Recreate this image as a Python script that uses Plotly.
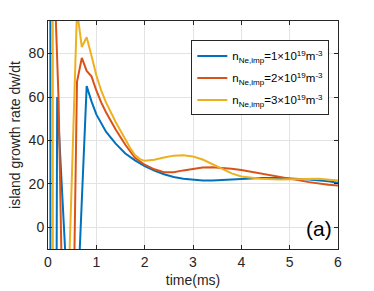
import plotly.graph_objects as go

# time (ms) and island growth rate dw/dt for each neon density
t_ne1 = [0.04, 0.06, 0.19, 0.40, 0.60, 0.80, 0.90, 1.00, 1.20, 1.40, 1.60, 1.80, 2.00, 2.20, 2.40,
         2.60, 2.80, 3.00, 3.20, 3.40, 3.60, 3.80, 4.00, 4.40, 4.80, 5.00, 5.40, 5.80, 6.00]
w_ne1 = [800, -800, 60, -30, -40, 65, 58, 52, 44, 38.5, 34, 30.8, 28.2, 26.1, 24.4,
         23.2, 22.4, 21.9, 21.6, 21.6, 21.8, 22.1, 22.4, 22.7, 22.7, 22.5, 22.0, 21.2, 20.5]

t_ne2 = [0.00, 0.22, 0.30, 0.50, 0.60, 0.70, 0.80, 0.90, 1.00, 1.10, 1.20, 1.40, 1.60, 1.80, 2.00, 2.20,
         2.40, 2.60, 2.80, 3.00, 3.20, 3.40, 3.60, 3.80, 4.00, 4.20, 4.60, 5.00, 5.40, 5.80, 6.00]
w_ne2 = [200, 58, -40, -80, 67, 78, 72, 69.5, 63, 57.5, 53, 45, 38, 32, 28.8, 26.7,
         25.4, 25.4, 26.2, 27.0, 27.5, 27.7, 27.5, 27.0, 26.4, 25.6, 23.8, 22.2, 20.8, 19.6, 19.2]

t_ne3 = [0.09, 0.11, 0.40, 0.60, 0.70, 0.80, 0.90, 1.00, 1.10, 1.20, 1.40, 1.60, 1.70, 1.80, 1.90, 2.00,
         2.10, 2.20, 2.40, 2.60, 2.80, 3.00, 3.20, 3.40, 3.60, 3.80, 4.00, 4.40, 4.80, 5.20, 5.60, 6.00]
w_ne3 = [800, -800, -45, 100, 83, 87.5, 79, 70, 63, 57.5, 48.5, 40.5, 36.5, 33.3, 31.4, 30.6,
         30.7, 31.1, 32.1, 33.0, 33.2, 32.6, 31.2, 29.0, 26.8, 24.8, 23.4, 22.3, 22.0, 22.2, 22.3, 21.5]

labels = [
    "n<sub>Ne,imp</sub>=1\u00d710<sup>19</sup>m<sup>-3</sup>",
    "n<sub>Ne,imp</sub>=2\u00d710<sup>19</sup>m<sup>-3</sup>",
    "n<sub>Ne,imp</sub>=3\u00d710<sup>19</sup>m<sup>-3</sup>",
]
colors = ["#0072BD", "#D95319", "#EDB120"]

fig = go.Figure()
for i, (t, w, name, c) in enumerate(zip([t_ne1, t_ne2, t_ne3], [w_ne1, w_ne2, w_ne3], labels, colors)):
    fig.add_trace(go.Scatter(x=t, y=w, mode="lines", name=name, legendgroup=f"g{i}",
                             line=dict(color=c, width=2)))

axcol = "#262626"
fig.update_layout(
    width=374, height=291,
    margin=dict(l=48, r=36, t=21, b=42),
    paper_bgcolor="white", plot_bgcolor="white",
    font=dict(family="Liberation Sans, Arial, sans-serif", size=14, color=axcol),
    showlegend=True,
    legend=dict(x=0.97, y=0.915, xanchor="right", yanchor="top",
                bgcolor="white", bordercolor=axcol, borderwidth=1,
                font=dict(size=11.5, color="#000000"),
                tracegroupgap=3, itemwidth=30,
                ),
    annotations=[dict(text="(a)", x=0.985, y=0.03, xref="paper", yref="paper",
                      xanchor="right", yanchor="bottom", showarrow=False,
                      font=dict(size=21, color="#000000"))],
)
fig.update_xaxes(range=[0, 6], tickvals=[0, 1, 2, 3, 4, 5, 6], automargin=False,
                 title=dict(text="time(ms)", standoff=6, font=dict(size=14)),
                 showline=True, linecolor=axcol, linewidth=1, mirror="ticks",
                 ticks="inside", ticklen=4, tickcolor=axcol,
                 showgrid=True, gridcolor="#e3e3e3", gridwidth=1, zeroline=False,
                 tickfont=dict(size=14))
fig.update_yaxes(range=[-10, 95], tickvals=[0, 20, 40, 60, 80], automargin=False,
                 title=dict(text="island growth rate dw/dt", standoff=4, font=dict(size=14)),
                 showline=True, linecolor=axcol, linewidth=1, mirror="ticks",
                 ticks="inside", ticklen=4, tickcolor=axcol,
                 showgrid=True, gridcolor="#e3e3e3", gridwidth=1, zeroline=False,
                 tickfont=dict(size=14))

fig.write_html("out.html", config={"displayModeBar": False},
               post_script="document.body.style.margin='0px';")
